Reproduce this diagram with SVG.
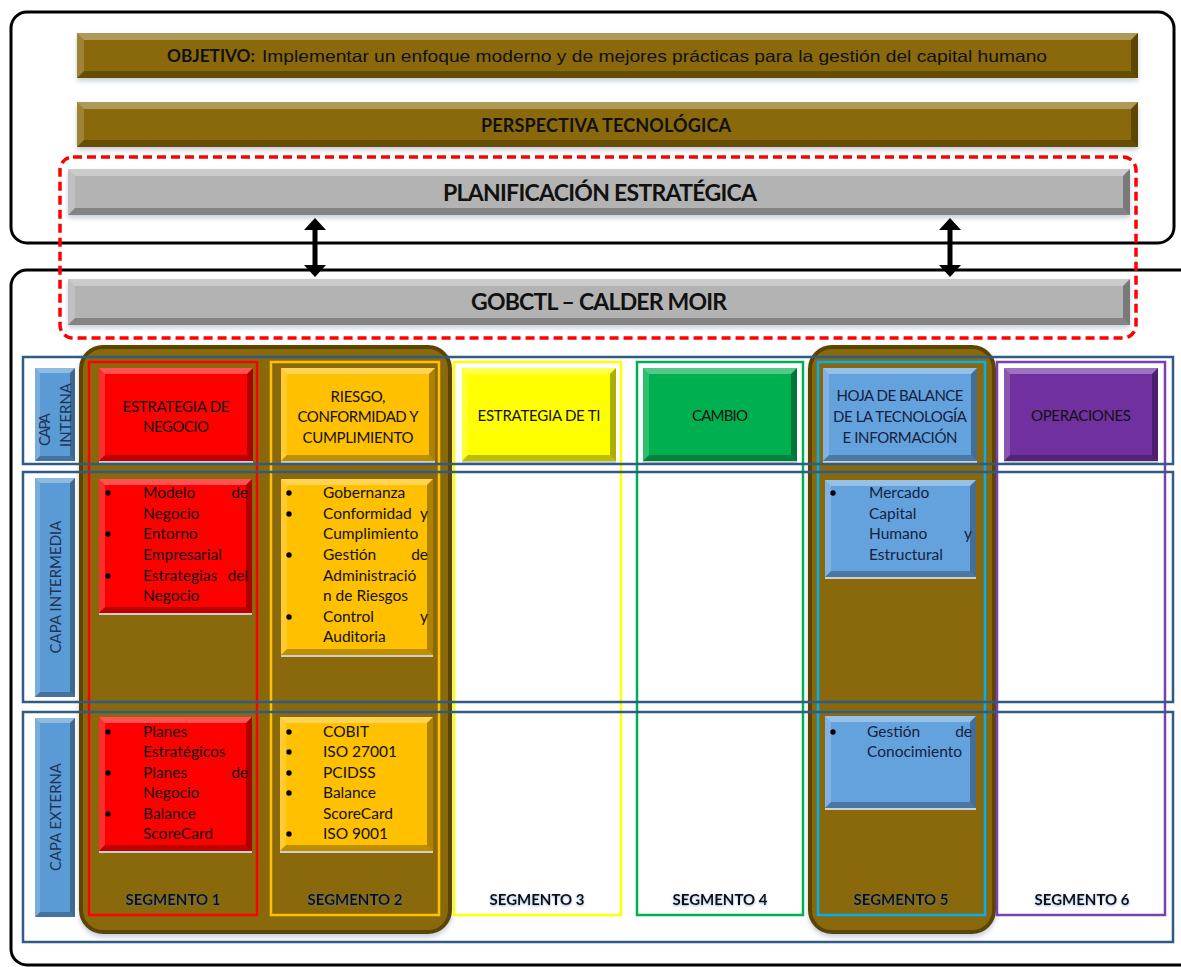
<svg xmlns="http://www.w3.org/2000/svg" width="1181" height="967" viewBox="0 0 1181 967">
<defs>
<style>
.bt{fill:#fff;fill-opacity:.32}
.bl{fill:#fff;fill-opacity:.18}
.br{fill:#000;fill-opacity:.32}
.bb{fill:#000;fill-opacity:.26}
.sh{fill:#cfcfcf}
.frame{fill:none;stroke:#000;stroke-width:3}
.dash{fill:none;stroke:#ff0000;stroke-width:3.5;stroke-dasharray:9 5}
.grid{fill:none;stroke:#2f5b86;stroke-width:2.5}
.grp{fill:#8a6908;stroke:#5c4505;stroke-width:4}
.seg{stroke-width:2.5}
text{font-family:Lato,"Open Sans","Liberation Sans",sans-serif;fill:#111}
.hd{font-size:15px;text-anchor:middle}
.bu{font-size:15.5px}
.be{font-size:15.5px;text-anchor:end}
.nv{fill:#16213d}
.lab{font-size:15px;font-weight:700;text-anchor:middle}
.cap{font-size:15px;fill:#1f3457}
.ttl{font-weight:700;text-anchor:middle}
.dot{fill:#000}
.conn{stroke:#000;stroke-width:5}
</style>
<filter id="ds" x="-5%" y="-30%" width="110%" height="180%">
<feDropShadow dx="0" dy="3" stdDeviation="2.5" flood-color="#7f93ad" flood-opacity=".45"/>
</filter>
<filter id="glow" x="-10%" y="-30%" width="120%" height="160%">
<feDropShadow dx="0" dy="1" stdDeviation="1.2" flood-color="#4a78b8" flood-opacity=".55"/>
</filter>
<marker id="ah" viewBox="0 0 12 22" refX="4" refY="11" markerWidth="12" markerHeight="22" markerUnits="userSpaceOnUse" orient="auto-start-reverse">
<path d="M0,0 L12,11 L0,22 z" fill="#000"/>
</marker>
<!-- bevelled shapes, fill colour taken from currentColor -->
<g id="hdr"><rect width="154" height="93" fill="currentColor"/><polygon class="bt" points="0,0 154,0 148,6 6,6"/><polygon class="bl" points="0,0 6,6 6,87 0,93"/><polygon class="br" points="154,0 154,93 148,87 148,6"/><polygon class="bb" points="0,93 154,93 148,87 6,87"/><rect class="sh" y="93" width="154" height="2"/></g>
<g id="box134"><rect width="153" height="134" fill="currentColor"/><polygon class="bt" points="0,0 153,0 147,6 6,6"/><polygon class="bl" points="0,0 6,6 6,128 0,134"/><polygon class="br" points="153,0 153,134 147,128 147,6"/><polygon class="bb" points="0,134 153,134 147,128 6,128"/><rect class="sh" y="134" width="153" height="2"/></g>
<g id="box176"><rect width="152" height="176" fill="currentColor"/><polygon class="bt" points="0,0 152,0 146,6 6,6"/><polygon class="bl" points="0,0 6,6 6,170 0,176"/><polygon class="br" points="152,0 152,176 146,170 146,6"/><polygon class="bb" points="0,176 152,176 146,170 6,170"/><rect class="sh" y="176" width="152" height="2"/></g>
<g id="box97"><rect width="151" height="97" fill="currentColor"/><polygon class="bt" points="0,0 151,0 145,6 6,6"/><polygon class="bl" points="0,0 6,6 6,91 0,97"/><polygon class="br" points="151,0 151,97 145,91 145,6"/><polygon class="bb" points="0,97 151,97 145,91 6,91"/><rect class="sh" y="97" width="151" height="2"/></g>
<g id="box92"><rect width="151" height="92" fill="currentColor"/><polygon class="bt" points="0,0 151,0 145,6 6,6"/><polygon class="bl" points="0,0 6,6 6,86 0,92"/><polygon class="br" points="151,0 151,92 145,86 145,6"/><polygon class="bb" points="0,92 151,92 145,86 6,86"/><rect class="sh" y="92" width="151" height="2"/></g>
<g id="cell93"><rect width="40" height="93" fill="currentColor"/><polygon class="bt" points="0,0 40,0 35,5 5,5"/><polygon class="bl" points="0,0 5,5 5,88 0,93"/><polygon class="br" points="40,0 40,93 35,88 35,5"/><polygon class="bb" points="0,93 40,93 35,88 5,88"/></g>
<g id="cell219"><rect width="40" height="219" fill="currentColor"/><polygon class="bt" points="0,0 40,0 35,5 5,5"/><polygon class="bl" points="0,0 5,5 5,214 0,219"/><polygon class="br" points="40,0 40,219 35,214 35,5"/><polygon class="bb" points="0,219 40,219 35,214 5,214"/></g>
<g id="cell199"><rect width="40" height="199" fill="currentColor"/><polygon class="bt" points="0,0 40,0 35,5 5,5"/><polygon class="bl" points="0,0 5,5 5,194 0,199"/><polygon class="br" points="40,0 40,199 35,194 35,5"/><polygon class="bb" points="0,199 40,199 35,194 5,194"/></g>
<g id="barB"><rect width="1061" height="45" fill="currentColor"/><polygon class="bt" points="0,0 1061,0 1054,7 7,7"/><polygon class="bl" points="0,0 7,7 7,38 0,45"/><polygon class="br" points="1061,0 1061,45 1054,38 1054,7"/><polygon class="bb" points="0,45 1061,45 1054,38 7,38"/></g>
<g id="barG"><rect width="1062" height="46" fill="currentColor"/><polygon class="bt" points="0,0 1062,0 1055,7 7,7"/><polygon class="bl" points="0,0 7,7 7,39 0,46"/><polygon class="br" points="1062,0 1062,46 1055,39 1055,7"/><polygon class="bb" points="0,46 1062,46 1055,39 7,39"/></g>
</defs>

<rect width="1181" height="967" fill="#fff"/>

<!-- outer frames -->
<g id="frames">
<rect class="frame" x="11" y="12" width="1163" height="231" rx="16"/>
<rect class="frame" x="11" y="270" width="1190" height="695" rx="16"/>
<rect class="dash" x="60" y="157" width="1076" height="181" rx="13"/>
</g>

<!-- horizontal bands -->
<g id="objetivo">
<use href="#barB" x="77" y="33" style="color:#8a6909" filter="url(#ds)"/>
<text x="167" y="62" font-size="16.5" font-weight="700" textLength="88" lengthAdjust="spacingAndGlyphs">OBJETIVO:</text>
<text x="262" y="62" font-size="16.5" style="font-family:'Liberation Sans',Arial,sans-serif" textLength="785" lengthAdjust="spacingAndGlyphs">Implementar un enfoque moderno y de mejores prácticas para la gestión del capital humano</text>
</g>
<g id="perspectiva">
<use href="#barB" x="77" y="102" style="color:#8a6909" filter="url(#ds)"/>
<text class="ttl" x="606" y="132" font-size="18" textLength="250">PERSPECTIVA TECNOLÓGICA</text>
</g>
<g id="planificacion">
<use href="#barG" x="68" y="169" style="color:#b3b3b3" filter="url(#ds)"/>
<text class="ttl" x="600" y="201" font-size="23" textLength="314">PLANIFICACIÓN ESTRATÉGICA</text>
</g>
<g id="gobctl">
<use href="#barG" x="68" y="279" style="color:#b3b3b3" filter="url(#ds)"/>
<text class="ttl" x="599" y="310" font-size="23" textLength="256">GOBCTL – CALDER MOIR</text>
</g>

<!-- links between planning and governance -->
<g id="connectors">
<line class="conn" x1="315" y1="226" x2="315" y2="269" marker-start="url(#ah)" marker-end="url(#ah)"/>
<line class="conn" x1="950" y1="226" x2="950" y2="269" marker-start="url(#ah)" marker-end="url(#ah)"/>
</g>

<!-- highlighted segment groups -->
<g id="grupo-1-2"><rect class="grp" x="81" y="347" width="369" height="585" rx="22" filter="url(#ds)"/></g>
<g id="grupo-5"><rect class="grp" x="810" y="347" width="184" height="585" rx="22" filter="url(#ds)"/></g>

<!-- segment columns -->
<g id="segmento-1">
<rect class="seg" x="89" y="362" width="168" height="553" fill="none" stroke="#ff0000"/>
<use href="#hdr" x="99" y="368" style="color:#ff0000"/>
<text class="hd" x="176" y="412" textLength="107">ESTRATEGIA DE</text>
<text class="hd" x="176" y="432" textLength="66">NEGOCIO</text>
<use href="#box134" x="99" y="479" style="color:#ff0000"/>
<circle class="dot" cx="108" cy="493" r="2.7"/><text class="bu" x="143" y="498">Modelo</text><text class="be" x="248" y="498">de</text>
<text class="bu" x="143" y="519">Negocio</text>
<circle class="dot" cx="108" cy="534" r="2.7"/><text class="bu" x="143" y="539">Entorno</text>
<text class="bu" x="143" y="560">Empresarial</text>
<circle class="dot" cx="108" cy="576" r="2.7"/><text class="bu" x="143" y="581">Estrategias</text><text class="be" x="248" y="581">del</text>
<text class="bu" x="143" y="601">Negocio</text>
<use href="#box134" x="99" y="717" style="color:#ff0000"/>
<circle class="dot" cx="108" cy="732" r="2.7"/><text class="bu" x="143" y="737">Planes</text>
<text class="bu" x="143" y="757">Estratégicos</text>
<circle class="dot" cx="108" cy="773" r="2.7"/><text class="bu" x="143" y="778">Planes</text><text class="be" x="248" y="778">de</text>
<text class="bu" x="143" y="798">Negocio</text>
<circle class="dot" cx="108" cy="814" r="2.7"/><text class="bu" x="143" y="819">Balance</text>
<text class="bu" x="143" y="839">ScoreCard</text>
<text class="lab" x="173" y="905" textLength="95" filter="url(#glow)">SEGMENTO 1</text>
</g>

<g id="segmento-2">
<rect class="seg" x="271" y="362" width="168" height="553" fill="none" stroke="#ffc000"/>
<use href="#hdr" x="281" y="368" style="color:#ffc000"/>
<text class="hd" x="358" y="402" textLength="55">RIESGO,</text>
<text class="hd" x="358" y="422" textLength="121">CONFORMIDAD Y</text>
<text class="hd" x="358" y="443" textLength="111">CUMPLIMIENTO</text>
<use href="#box176" x="281" y="479" style="color:#ffc000"/>
<circle class="dot" cx="289" cy="493" r="2.7"/><text class="bu" x="323" y="498">Gobernanza</text>
<circle class="dot" cx="289" cy="514" r="2.7"/><text class="bu" x="323" y="519">Conformidad</text><text class="be" x="428" y="519">y</text>
<text class="bu" x="323" y="539">Cumplimiento</text>
<circle class="dot" cx="289" cy="555" r="2.7"/><text class="bu" x="323" y="560">Gestión</text><text class="be" x="428" y="560">de</text>
<text class="bu" x="323" y="581">Administració</text>
<text class="bu" x="323" y="601">n de Riesgos</text>
<circle class="dot" cx="289" cy="617" r="2.7"/><text class="bu" x="323" y="622">Control</text><text class="be" x="428" y="622">y</text>
<text class="bu" x="323" y="642">Auditoria</text>
<use href="#box134" x="280" y="717" style="color:#ffc000"/>
<circle class="dot" cx="289" cy="732" r="2.7"/><text class="bu" x="323" y="737">COBIT</text>
<circle class="dot" cx="289" cy="752" r="2.7"/><text class="bu" x="323" y="757">ISO 27001</text>
<circle class="dot" cx="289" cy="773" r="2.7"/><text class="bu" x="323" y="778">PCIDSS</text>
<circle class="dot" cx="289" cy="793" r="2.7"/><text class="bu" x="323" y="798">Balance</text>
<text class="bu" x="323" y="819">ScoreCard</text>
<circle class="dot" cx="289" cy="834" r="2.7"/><text class="bu" x="323" y="839">ISO 9001</text>
<text class="lab" x="355" y="905" textLength="95" filter="url(#glow)">SEGMENTO 2</text>
</g>

<g id="segmento-3">
<rect class="seg" x="454" y="362" width="167" height="553" fill="#fff" stroke="#ffff00"/>
<use href="#hdr" x="462" y="368" style="color:#ffff00"/>
<text class="hd" x="539" y="421" textLength="123">ESTRATEGIA DE TI</text>
<text class="lab" x="537" y="905" textLength="95" filter="url(#glow)">SEGMENTO 3</text>
</g>

<g id="segmento-4">
<rect class="seg" x="637" y="362" width="166" height="553" fill="#fff" stroke="#00b050"/>
<use href="#hdr" x="643" y="368" style="color:#00b050"/>
<text class="hd" x="720" y="421" textLength="56">CAMBIO</text>
<text class="lab" x="720" y="905" textLength="95" filter="url(#glow)">SEGMENTO 4</text>
</g>

<g id="segmento-5">
<rect class="seg" x="818" y="362" width="167" height="553" fill="none" stroke="#00b0f0"/>
<use href="#hdr" x="823" y="368" style="color:#64a2de"/>
<text class="hd nv" x="900" y="401" textLength="127">HOJA DE BALANCE</text>
<text class="hd nv" x="900" y="422" textLength="134">DE LA TECNOLOGÍA</text>
<text class="hd nv" x="900" y="443" textLength="115">E INFORMACIÓN</text>
<use href="#box97" x="825" y="480" style="color:#64a2de"/>
<circle class="dot" cx="833" cy="493" r="2.7"/><text class="bu nv" x="869" y="498">Mercado</text>
<text class="bu nv" x="869" y="519">Capital</text>
<text class="bu nv" x="869" y="539">Humano</text><text class="be nv" x="972" y="539">y</text>
<text class="bu nv" x="869" y="560">Estructural</text>
<use href="#box92" x="825" y="716" style="color:#64a2de"/>
<circle class="dot" cx="833" cy="732" r="2.7"/><text class="bu nv" x="867" y="737">Gestión</text><text class="be nv" x="972" y="737">de</text>
<text class="bu nv" x="867" y="757">Conocimiento</text>
<text class="lab" x="901" y="905" textLength="95" filter="url(#glow)">SEGMENTO 5</text>
</g>

<g id="segmento-6">
<rect class="seg" x="997" y="362" width="168" height="553" fill="#fff" stroke="#7b3fb0"/>
<use href="#hdr" x="1004" y="368" style="color:#7030a0"/>
<text class="hd" x="1081" y="421" textLength="100">OPERACIONES</text>
<text class="lab" x="1082" y="905" textLength="95" filter="url(#glow)">SEGMENTO 6</text>
</g>

<!-- layer labels -->
<g id="capa-interna">
<use href="#cell93" x="35" y="368" style="color:#5b9bd5"/>
<text class="cap" transform="translate(50,446) rotate(-90)" textLength="33">CAPA</text>
<text class="cap" transform="translate(71,447) rotate(-90)" textLength="64">INTERNA</text>
</g>
<g id="capa-intermedia">
<use href="#cell219" x="35" y="478" style="color:#5b9bd5"/>
<text class="cap" text-anchor="middle" transform="translate(61,587) rotate(-90)" textLength="133">CAPA INTERMEDIA</text>
</g>
<g id="capa-externa">
<use href="#cell199" x="35" y="718" style="color:#5b9bd5"/>
<text class="cap" text-anchor="middle" transform="translate(61,817) rotate(-90)" textLength="108">CAPA EXTERNA</text>
</g>

<!-- layer rows drawn across all segments -->
<g id="filas">
<rect class="grid" x="23" y="357" width="1150" height="107"/>
<rect class="grid" x="23" y="472" width="1150" height="230"/>
<rect class="grid" x="23" y="712" width="1150" height="230"/>
</g>
</svg>
